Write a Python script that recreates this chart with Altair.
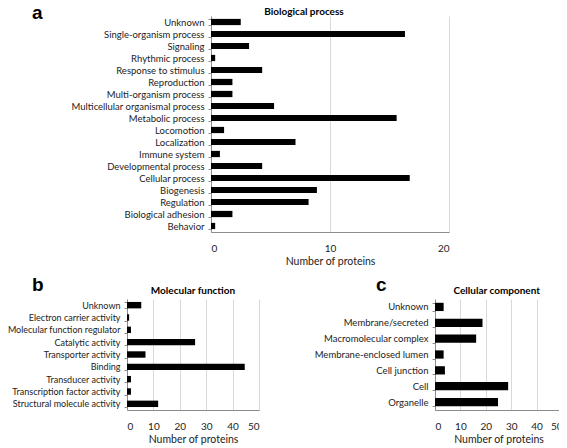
import altair as alt
import pandas as pd

# ---- data ----
bp_cats = ["Unknown", "Single-organism process", "Signaling", "Rhythmic process",
           "Response to stimulus", "Reproduction", "Multi-organism process",
           "Multicellular organismal process", "Metabolic process", "Locomotion",
           "Localization", "Immune system", "Developmental process", "Cellular process",
           "Biogenesis", "Regulation", "Biological adhesion", "Behavior"]
bp_vals = [2.5, 16.3, 3.2, 0.35, 4.3, 1.8, 1.8, 5.3, 15.6, 1.1, 7.1, 0.75, 4.3, 16.7,
           8.9, 8.2, 1.8, 0.35]

mf_cats = ["Unknown", "Electron carrier activity", "Molecular function regulator",
           "Catalytic activity", "Transporter activity", "Binding", "Transducer activity",
           "Transcription factor activity", "Structural molecule activity"]
mf_vals = [5.4, 0.8, 1.5, 25.8, 7.0, 44.6, 1.5, 1.5, 11.8]

cc_cats = ["Unknown", "Membrane/secreted", "Macromolecular complex",
           "Membrane-enclosed lumen", "Cell junction", "Cell", "Organelle"]
cc_vals = [3.4, 18.7, 16.2, 3.4, 3.9, 28.8, 24.8]

bp_ticks = [0, 10, 20]
mf_ticks = [0, 10, 20, 30, 40, 50]
cc_ticks = [0, 10, 20, 30, 40, 50]

FONT = "Lato"
ONE = pd.DataFrame({"t": [""]})


def pin(px, py):
    # invisible anchor used only to fix layout bounds
    return alt.Chart(ONE).mark_rule(opacity=0, strokeOpacity=0).encode(
        x=alt.value(px), y=alt.value(py), y2=alt.value(py + 1))


def label(text, px, py, size, align, baseline, font):
    return alt.Chart(pd.DataFrame({"t": [text]})).mark_text(
        align=align, baseline=baseline, fontSize=size, fontWeight="bold",
        font=font, color="black"
    ).encode(text="t:N", x=alt.value(px), y=alt.value(py))


def panel(cats, vals, ticks, title, w, h, letter, lx, ly, tx, ty, pins,
          lab_size=9.5, shift=0):
    df = pd.DataFrame({"cat": cats, "val": vals})
    if shift:
        xscale = alt.Scale(domain=[ticks[0], ticks[-1]], nice=False, zero=True,
                           range=[shift, shift + w])
    else:
        xscale = alt.Scale(domain=[ticks[0], ticks[-1]], nice=False, zero=True)
    bars = alt.Chart(df).mark_bar(color="black").encode(
        x=alt.X("val:Q", scale=xscale,
                axis=alt.Axis(values=ticks, title="Number of proteins", grid=True,
                              ticks=False, labelPadding=11, titlePadding=3,
                              labelFontSize=10, format="d")),
        y=alt.Y("cat:N", sort=cats,
                scale=alt.Scale(paddingInner=0.48, paddingOuter=0.24),
                axis=alt.Axis(title=None, tickBand="extent", tickSize=3,
                              labelPadding=4, labelFontSize=lab_size, grid=False,
                              offset=-shift)),
    )
    layers = [bars,
              label(letter, lx, ly, 19, "left", "alphabetic", "Liberation Sans"),
              label(title, tx, ty, 10, "center", "middle", FONT)]
    layers += [pin(px, py) for px, py in pins]
    return alt.layer(*layers).properties(width=w + shift, height=h)


WA, HA = 238, 216
WB, WC, HB = 132, 127, 111
SHIFT = 84

pa = panel(bp_cats, bp_vals, bp_ticks, "Biological process", WA, HA, "a", -95, 3,
           177, -4, pins=[(100, -16), (100, HA + 40)], shift=SHIFT)
pb = panel(mf_cats, mf_vals, mf_ticks, "Molecular function", WB, HB, "b", -95, -8,
           66, -7.8, pins=[(-140, 50), (50, -26), (WB + 10, 50)], lab_size=9)
pc = panel(cc_cats, cc_vals, cc_ticks, "Cellular component", WC, HB, "c", -59, -8,
           61.7, -7.8, pins=[(-130, 50), (50, -26)])

bottom = alt.hconcat(pb, pc, spacing=36)
chart = alt.vconcat(pa, bottom, spacing=0).properties(
    padding={"left": -21, "top": -8, "right": -3, "bottom": 0}
).configure_view(stroke=None).configure_axis(
    labelFont=FONT, titleFont=FONT, titleFontSize=10.5,
    labelColor="#222222", titleColor="#222222", titleFontWeight="normal",
    domainColor="#8c8c8c", tickColor="#8c8c8c", gridColor="#d9d9d9",
)

chart.save("out.html", embed_options={"renderer": "svg", "actions": False})
